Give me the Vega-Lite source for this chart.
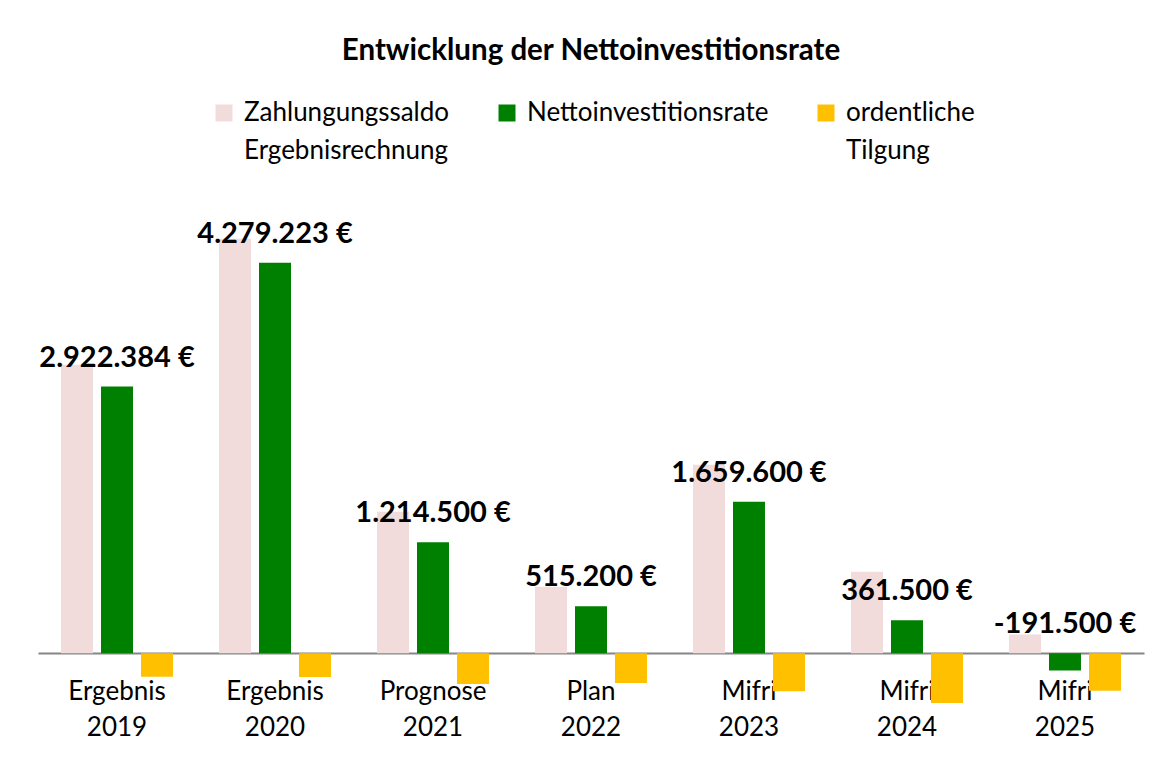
{
  "$schema": "https://vega.github.io/schema/vega-lite/v6.json",
  "width": 1106,
  "height": 520,
  "autosize": {"type": "none"},
  "padding": {"left": 38, "top": 197, "right": 23, "bottom": 47},
  "background": "white",
  "title": {
    "text": "Entwicklung der Nettoinvestitionsrate",
    "font": "Lato",
    "fontSize": 29.5,
    "fontWeight": "bold",
    "color": "#000000",
    "anchor": "middle",
    "frame": "group",
    "offset": 34
  },
  "data": {
    "values": [
      {"category": "Ergebnis 2019", "series": "Zahlungungssaldo Ergebnisrechnung", "value": 3162000},
      {"category": "Ergebnis 2019", "series": "Nettoinvestitionsrate", "value": 2922384},
      {"category": "Ergebnis 2019", "series": "ordentliche Tilgung", "value": -258000},
      {"category": "Ergebnis 2020", "series": "Zahlungungssaldo Ergebnisrechnung", "value": 4542000},
      {"category": "Ergebnis 2020", "series": "Nettoinvestitionsrate", "value": 4279223},
      {"category": "Ergebnis 2020", "series": "ordentliche Tilgung", "value": -261000},
      {"category": "Prognose 2021", "series": "Zahlungungssaldo Ergebnisrechnung", "value": 1551000},
      {"category": "Prognose 2021", "series": "Nettoinvestitionsrate", "value": 1214500},
      {"category": "Prognose 2021", "series": "ordentliche Tilgung", "value": -338000},
      {"category": "Plan 2022", "series": "Zahlungungssaldo Ergebnisrechnung", "value": 729000},
      {"category": "Plan 2022", "series": "Nettoinvestitionsrate", "value": 515200},
      {"category": "Plan 2022", "series": "ordentliche Tilgung", "value": -327000},
      {"category": "Mifri 2023", "series": "Zahlungungssaldo Ergebnisrechnung", "value": 2066000},
      {"category": "Mifri 2023", "series": "Nettoinvestitionsrate", "value": 1659600},
      {"category": "Mifri 2023", "series": "ordentliche Tilgung", "value": -418000},
      {"category": "Mifri 2024", "series": "Zahlungungssaldo Ergebnisrechnung", "value": 893000},
      {"category": "Mifri 2024", "series": "Nettoinvestitionsrate", "value": 361500},
      {"category": "Mifri 2024", "series": "ordentliche Tilgung", "value": -546000},
      {"category": "Mifri 2025", "series": "Zahlungungssaldo Ergebnisrechnung", "value": 203000},
      {"category": "Mifri 2025", "series": "Nettoinvestitionsrate", "value": -191500},
      {"category": "Mifri 2025", "series": "ordentliche Tilgung", "value": -411000}
    ]
  },
  "layer": [
    {
      "mark": {"type": "bar"},
      "encoding": {
        "x": {
          "field": "category",
          "type": "nominal",
          "sort": null,
          "scale": {"paddingInner": 0.2911, "paddingOuter": 0.1456},
          "axis": {
            "title": null,
            "orient": "bottom",
            "offset": -64,
            "domainColor": "#868686",
            "domainWidth": 2,
            "ticks": false,
            "labelAngle": 0,
            "labelFont": "Lato",
            "labelFontSize": 26,
            "labelColor": "#000000",
            "labelPadding": 25,
            "labelLineHeight": 36,
            "labelExpr": "split(datum.label, ' ')"
          }
        },
        "xOffset": {
          "field": "series",
          "type": "nominal",
          "sort": ["Zahlungungssaldo Ergebnisrechnung", "Nettoinvestitionsrate", "ordentliche Tilgung"],
          "scale": {"paddingInner": 0.2, "paddingOuter": 0}
        },
        "y": {
          "field": "value",
          "type": "quantitative",
          "scale": {"domain": [-700000, 5000000], "nice": false, "zero": false},
          "axis": null
        },
        "color": {
          "field": "series",
          "type": "nominal",
          "scale": {
            "domain": ["Zahlungungssaldo Ergebnisrechnung", "Nettoinvestitionsrate", "ordentliche Tilgung"],
            "range": ["#F2DCDB", "#008000", "#FFC000"]
          },
          "legend": {
            "title": null,
            "orient": "none",
            "legendX": 173,
            "legendY": -97,
            "direction": "horizontal",
            "symbolType": "square",
            "symbolSize": 289,
            "symbolStrokeWidth": 0,
            "labelFont": "Lato",
            "labelFontSize": 26,
            "labelColor": "#000000",
            "labelOffset": 7,
            "labelLimit": 400,
            "columnPadding": 44,
            "padding": 0,
            "labelExpr": "datum.label == 'Nettoinvestitionsrate' ? ['Nettoinvestitionsrate', ' '] : split(datum.label, ' ')",
            "encode": {"labels": {"update": {"lineHeight": {"value": 38}}}}
          }
        }
      }
    },
    {
      "transform": [
        {"filter": "datum.series == 'Nettoinvestitionsrate'"},
        {"calculate": "max(datum.value, 0)", "as": "labelY"}
      ],
      "mark": {
        "type": "text",
        "font": "Lato",
        "fontSize": 29,
        "fontWeight": "bold",
        "color": "#000000",
        "baseline": "middle",
        "dy": -29
      },
      "encoding": {
        "x": {"field": "category", "type": "nominal", "sort": null},
        "y": {"field": "labelY", "type": "quantitative"},
        "text": {"field": "value", "type": "quantitative", "format": "$,.0f"}
      }
    }
  ],
  "config": {
    "view": {"stroke": null},
    "locale": {
      "number": {
        "decimal": ",",
        "thousands": ".",
        "grouping": [3],
        "currency": ["", " €"],
        "minus": "-"
      }
    }
  }
}
